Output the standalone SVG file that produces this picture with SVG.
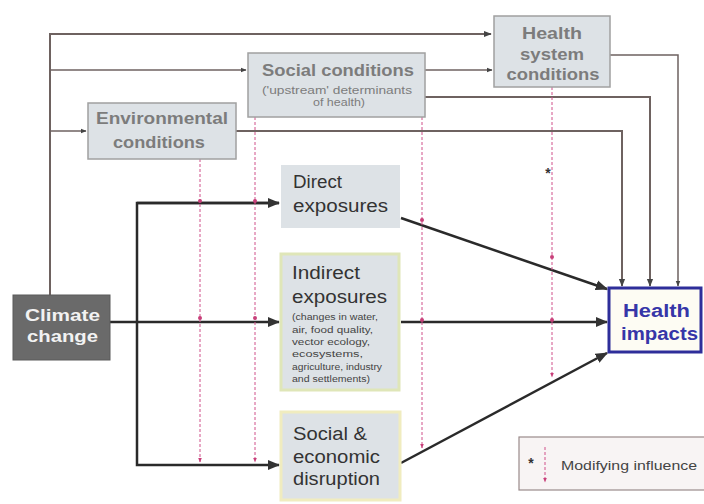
<svg xmlns="http://www.w3.org/2000/svg" width="704" height="504" viewBox="0 0 704 504">
<defs>
<marker id="ah" viewBox="0 0 10 10" refX="9" refY="5" markerWidth="5" markerHeight="5" orient="auto"><path d="M0,1 L10,5 L0,9 z" fill="#333"/></marker>
<marker id="ahs" viewBox="0 0 10 10" refX="9" refY="5" markerWidth="4" markerHeight="4" orient="auto"><path d="M0,1 L10,5 L0,9 z" fill="#444"/></marker>
<marker id="pk" viewBox="0 0 10 10" refX="9" refY="5" markerWidth="5" markerHeight="5" orient="auto"><path d="M0,1 L10,5 L0,9 z" fill="#c8407a"/></marker>
</defs>
<style>
.box{fill:#dde2e6;stroke:#a0a0a0;stroke-width:1.5}
.boxg{fill:#dde2e6;stroke:#dfe6b8;stroke-width:3}
.gt{font-family:"Liberation Sans",Arial,sans-serif;font-weight:bold;font-size:17px;fill:#7c7c7c;text-anchor:middle}
.st{font-family:"Liberation Sans",Arial,sans-serif;font-size:10.5px;fill:#7c7c7c;text-anchor:middle}
.dt{font-family:"Liberation Sans",Arial,sans-serif;font-size:18px;fill:#333}
.sm{font-family:"Liberation Sans",Arial,sans-serif;font-size:8.5px;fill:#444}
.gl{fill:none;stroke:#6e6260;stroke-width:2}
.gls{fill:none;stroke:#6e6260;stroke-width:1.5}
.bl{fill:none;stroke:#2a2a2a;stroke-width:2.5}
.pl{fill:none;stroke:#d0508a;stroke-width:1;stroke-dasharray:3,2}
.wt{font-family:"Liberation Sans",Arial,sans-serif;font-weight:bold;font-size:16px;fill:#f2f2f2}
.bt{font-family:"Liberation Sans",Arial,sans-serif;font-weight:bold;font-size:18px;fill:#3636a8}
</style>
<rect width="704" height="504" fill="#ffffff"/>
<g id="connectors">
<path class="gl" d="M50,296 V34 H491" marker-end="url(#ahs)"/>
<path class="gls" d="M50,70 H246" marker-end="url(#ahs)"/>
<path class="gls" d="M50,131 H86" marker-end="url(#ahs)"/>
<path class="gls" d="M425,70 H492" marker-end="url(#ahs)"/>
<path class="gls" d="M610,55 H678 V286" marker-end="url(#ahs)"/>
<path class="gl" d="M425,97 H650 V286" marker-end="url(#ahs)"/>
<path class="gl" d="M236,131 H622 V286" marker-end="url(#ahs)"/>
<path class="bl" d="M110,322 H279" marker-end="url(#ah)"/>
<path class="bl" d="M279,203 H137 V465 H279" marker-end="url(#ah)"/>
<path class="bl" d="M137,203 H279" marker-end="url(#ah)"/>
<path class="bl" d="M401,218 L607,289" marker-end="url(#ah)"/>
<path class="bl" d="M401,322 H607" marker-end="url(#ah)"/>
<path class="bl" d="M401,463 L607,353" marker-end="url(#ah)"/>
<path class="pl" d="M200,159 V462" marker-end="url(#pk)"/>
<path class="pl" d="M255,117 V462" marker-end="url(#pk)"/>
<path class="pl" d="M422,117 V448" marker-end="url(#pk)"/>
<path class="pl" d="M552,87 V377" marker-end="url(#pk)"/>
<g fill="#c8407a">
<circle cx="200" cy="201" r="2"/><circle cx="255" cy="201" r="2"/>
<circle cx="200" cy="318" r="2"/><circle cx="255" cy="318" r="2"/>
<circle cx="422" cy="220" r="2"/><circle cx="552" cy="257" r="2"/>
<circle cx="422" cy="320" r="2"/><circle cx="552" cy="320" r="2"/>
</g>
<text x="548" y="178" font-family="Liberation Sans, Arial, sans-serif" font-weight="bold" font-size="14" fill="#333" text-anchor="middle">*</text>
</g>
<g id="health-system">
<rect class="box" x="494" y="16" width="116" height="71"/>
<text class="gt" x="552" y="39" textLength="60" lengthAdjust="spacingAndGlyphs">Health</text>
<text class="gt" x="552" y="60" textLength="64" lengthAdjust="spacingAndGlyphs">system</text>
<text class="gt" x="553" y="80" textLength="93" lengthAdjust="spacingAndGlyphs">conditions</text>
</g>
<g id="social-conditions">
<rect class="box" x="248" y="53" width="177" height="64"/>
<text class="gt" x="338" y="76" textLength="152" lengthAdjust="spacingAndGlyphs">Social conditions</text>
<text class="st" x="337" y="94" textLength="150" lengthAdjust="spacingAndGlyphs">('upstream' determinants</text>
<text class="st" x="339" y="106" textLength="52" lengthAdjust="spacingAndGlyphs">of health)</text>
</g>
<g id="environmental">
<rect class="box" x="88" y="103" width="148" height="56"/>
<text class="gt" x="162" y="124" textLength="132" lengthAdjust="spacingAndGlyphs">Environmental</text>
<text class="gt" x="159" y="148" textLength="92" lengthAdjust="spacingAndGlyphs">conditions</text>
</g>
<g id="climate-change">
<rect x="13" y="295" width="97" height="65" fill="#6a6a6a" stroke="#5a5a5a"/>
<text class="wt" x="25" y="321" textLength="75" lengthAdjust="spacingAndGlyphs">Climate</text>
<text class="wt" x="27" y="342" textLength="71" lengthAdjust="spacingAndGlyphs">change</text>
</g>
<g id="direct">
<rect x="281" y="165" width="119" height="63" fill="#dde2e6"/>
<text class="dt" x="293" y="188" textLength="49" lengthAdjust="spacingAndGlyphs">Direct</text>
<text class="dt" x="293" y="212" textLength="95" lengthAdjust="spacingAndGlyphs">exposures</text>
</g>
<g id="indirect">
<rect class="boxg" x="281" y="254" width="118" height="136"/>
<text class="dt" x="292" y="279" textLength="68" lengthAdjust="spacingAndGlyphs">Indirect</text>
<text class="dt" x="292" y="303" textLength="95" lengthAdjust="spacingAndGlyphs">exposures</text>
<text class="sm" x="292" y="320" textLength="86" lengthAdjust="spacingAndGlyphs">(changes in water,</text>
<text class="sm" x="292" y="333" textLength="81" lengthAdjust="spacingAndGlyphs">air, food quality,</text>
<text class="sm" x="292" y="345" textLength="78" lengthAdjust="spacingAndGlyphs">vector ecology,</text>
<text class="sm" x="292" y="357" textLength="71" lengthAdjust="spacingAndGlyphs">ecosystems,</text>
<text class="sm" x="292" y="370" textLength="90" lengthAdjust="spacingAndGlyphs">agriculture, industry</text>
<text class="sm" x="292" y="382" textLength="78" lengthAdjust="spacingAndGlyphs">and settlements)</text>
</g>
<g id="social-economic">
<rect x="281" y="412" width="119" height="88" fill="#dde2e6" stroke="#f0ecbf" stroke-width="3"/>
<text class="dt" x="293" y="440" textLength="74" lengthAdjust="spacingAndGlyphs">Social &amp;</text>
<text class="dt" x="293" y="463" textLength="87" lengthAdjust="spacingAndGlyphs">economic</text>
<text class="dt" x="293" y="485" textLength="87" lengthAdjust="spacingAndGlyphs">disruption</text>
</g>
<g id="health-impacts">
<rect x="609" y="288" width="92" height="64" fill="#fdfcf3" stroke="#2e2e9a" stroke-width="3"/>
<text class="bt" x="623" y="317" textLength="67" lengthAdjust="spacingAndGlyphs">Health</text>
<text class="bt" x="621" y="340" textLength="77" lengthAdjust="spacingAndGlyphs">impacts</text>
</g>
<g id="legend">
<rect x="519" y="437" width="190" height="53" fill="#f8f4f4" stroke="#9a8a8a" stroke-width="1.2"/>
<text x="531" y="468" font-family="Liberation Sans, Arial, sans-serif" font-weight="bold" font-size="14" fill="#333" text-anchor="middle">*</text>
<path class="pl" d="M545,447 V482" marker-end="url(#pk)"/>
<text x="561" y="470" font-family="Liberation Sans, Arial, sans-serif" font-size="12" fill="#444" textLength="136" lengthAdjust="spacingAndGlyphs">Modifying influence</text>
</g>
</svg>
